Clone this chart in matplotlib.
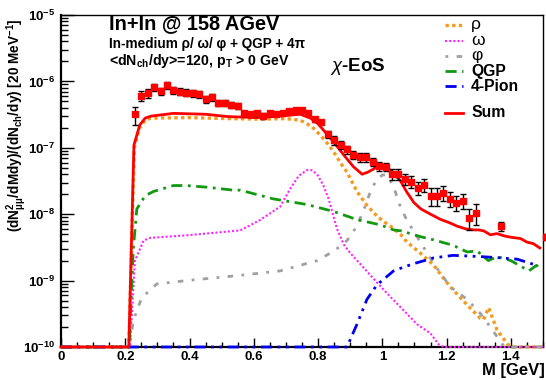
import numpy as np
import matplotlib
matplotlib.use('Agg')
import matplotlib.pyplot as plt
from matplotlib.ticker import FixedLocator, MultipleLocator, NullFormatter

plt.rcParams['font.family'] = ['Liberation Sans', 'DejaVu Sans']
plt.rcParams['mathtext.fontset'] = 'custom'
plt.rcParams['mathtext.rm'] = 'Liberation Sans'
plt.rcParams['mathtext.it'] = 'Liberation Sans:italic'
plt.rcParams['mathtext.bf'] = 'Liberation Sans:bold'

# data points, mass in GeV
m_data = [0.23, 0.25, 0.27, 0.29, 0.31, 0.33, 0.35, 0.37, 0.39, 0.41, 0.43, 0.45,
          0.47, 0.49, 0.51, 0.53, 0.55, 0.57, 0.59, 0.61, 0.63, 0.65, 0.67, 0.69,
          0.71, 0.73, 0.75, 0.77, 0.79, 0.81, 0.83, 0.85, 0.87, 0.89, 0.91, 0.93,
          0.95, 0.97, 0.99, 1.01, 1.03, 1.05, 1.07, 1.09, 1.11, 1.13, 1.15, 1.17,
          1.19, 1.21, 1.23, 1.25, 1.27, 1.29, 1.37, 1.51]
y_data = [3.2e-7, 6.1e-7, 6.6e-7, 8.1e-7, 7.2e-7, 8.7e-7, 7.4e-7, 7.0e-7, 6.8e-7,
          6.7e-7, 6.5e-7, 5.4e-7, 5.8e-7, 4.7e-7, 4.7e-7, 4.4e-7, 4.3e-7, 3.3e-7,
          3.2e-7, 3.3e-7, 3.0e-7, 3.3e-7, 3.2e-7, 3.3e-7, 3.6e-7, 3.7e-7, 3.7e-7,
          3.4e-7, 2.7e-7, 2.45e-7, 1.6e-7, 1.3e-7, 1.1e-7, 9.5e-8, 7.8e-8, 7.2e-8,
          7.2e-8, 6.2e-8, 5.3e-8, 5.2e-8, 4.0e-8, 4.0e-8, 3.4e-8, 3.1e-8, 2.5e-8,
          2.8e-8, 1.9e-8, 1.9e-8, 2.1e-8, 1.7e-8, 1.5e-8, 1.6e-8, 8.8e-9, 1.05e-8,
          6.6e-9, 4.6e-9]
rel_err = [0.30, 0.17, 0.15, 0.12, 0.12, 0.12, 0.12, 0.12, 0.12, 0.12, 0.12, 0.12,
           0.12, 0.1, 0.1, 0.1, 0.1, 0.1, 0.1, 0.1, 0.1, 0.08, 0.06, 0.05,
           0.03, 0.03, 0.03, 0.05, 0.08, 0.08, 0.12, 0.14, 0.14, 0.14, 0.14, 0.14,
           0.14, 0.15, 0.15, 0.15, 0.18, 0.18, 0.2, 0.2, 0.22, 0.22, 0.3, 0.3,
           0.25, 0.25, 0.25, 0.25, 0.35, 0.35, 0.15, 0.1]

m_sum = [0.0, 0.211, 0.227, 0.245, 0.262, 0.28, 0.35, 0.45, 0.52, 0.61, 0.68, 0.745,
         0.776, 0.80, 0.828, 0.85, 0.88, 0.91, 0.937, 0.955, 0.973, 0.99, 1.004, 1.02,
         1.035, 1.056, 1.075, 1.098, 1.12, 1.15, 1.18, 1.21, 1.233, 1.26, 1.285, 1.30,
         1.316, 1.336, 1.357, 1.38, 1.40, 1.43, 1.45, 1.47, 1.49]
y_sum = [1e-10, 1e-10, 1.1e-7, 2.2e-7, 2.8e-7, 3.0e-7, 3.3e-7, 3.2e-7, 2.95e-7, 2.85e-7,
         3.0e-7, 3.2e-7, 2.8e-7, 2.3e-7, 1.6e-7, 1.2e-7, 7.8e-8, 5.2e-8, 4.0e-8, 4.3e-8,
         4.8e-8, 5.6e-8, 5.5e-8, 4.8e-8, 4.1e-8, 3.2e-8, 2.2e-8, 1.5e-8, 1.2e-8, 1.0e-8,
         8.4e-9, 7.4e-9, 6.6e-9, 6.0e-9, 5.8e-9, 5.8e-9, 5.6e-9, 4.9e-9, 5.1e-9, 4.7e-9,
         4.5e-9, 4.3e-9, 3.8e-9, 3.6e-9, 3.1e-9]

m_rho = [0.0, 0.211, 0.228, 0.245, 0.262, 0.28, 0.40, 0.52, 0.62, 0.70, 0.745, 0.78,
         0.807, 0.83, 0.848, 0.869, 0.89, 0.921, 0.95, 0.973, 1.0, 1.025, 1.056, 1.077,
         1.118, 1.16, 1.21, 1.264, 1.305, 1.315, 1.331, 1.357, 1.39, 1.40, 1.5]
y_rho = [1e-10, 1e-10, 1.0e-7, 2.0e-7, 2.6e-7, 2.8e-7, 2.85e-7, 2.75e-7, 2.7e-7, 2.75e-7,
         2.6e-7, 2.1e-7, 1.55e-7, 1.15e-7, 8.8e-8, 6.0e-8, 4.3e-8, 2.2e-8, 1.4e-8, 1.05e-8,
         8e-9, 6.6e-9, 5.0e-9, 3.8e-9, 2.6e-9, 1.7e-9, 8.2e-10, 4.3e-10, 2.7e-10, 2.6e-10,
         3.9e-10, 1.8e-10, 1.1e-10, 1e-10, 1e-10]

m_omega = [0.0, 0.215, 0.23, 0.257, 0.277, 0.39, 0.558, 0.62, 0.682, 0.713, 0.74, 0.765,
           0.78, 0.797, 0.815, 0.833, 0.859, 0.88, 0.9, 0.94, 0.978, 1.015, 1.056, 1.108,
           1.15, 1.175, 1.19, 1.5]
y_omega = [1e-10, 1e-10, 2.0e-9, 4.0e-9, 4.4e-9, 4.8e-9, 5.7e-9, 8.2e-9, 1.3e-8, 2.4e-8,
           3.8e-8, 4.6e-8, 4.6e-8, 4.0e-8, 2.8e-8, 1.7e-8, 6e-9, 3.5e-9, 2.6e-9, 1.6e-9,
           1.0e-9, 6.4e-10, 4.0e-10, 2.2e-10, 1.6e-10, 1.1e-10, 1e-10, 1e-10]

m_phi = [0.0, 0.213, 0.225, 0.251, 0.298, 0.39, 0.558, 0.682, 0.797, 0.85, 0.89, 0.92,
         0.942, 0.96, 0.98, 1.0, 1.015, 1.035, 1.056, 1.077, 1.108, 1.16, 1.21, 1.264,
         1.305, 1.336, 1.368, 1.38, 1.5]
y_phi = [1e-10, 1e-10, 2.5e-10, 5.5e-10, 8.9e-10, 1.0e-9, 1.2e-9, 1.4e-9, 2.0e-9, 2.8e-9,
         4.0e-9, 6.5e-9, 1.15e-8, 2.0e-8, 3.2e-8, 3.9e-8, 3.9e-8, 2.6e-8, 1.3e-8, 8e-9,
         4.6e-9, 1.8e-9, 8.2e-10, 5.2e-10, 3.2e-10, 2.0e-10, 1.2e-10, 1e-10, 1e-10]

m_qgp = [0.0, 0.212, 0.225, 0.236, 0.262, 0.288, 0.35, 0.39, 0.454, 0.537, 0.558, 0.661,
         0.765, 0.848, 0.921, 0.994, 1.035, 1.06, 1.087, 1.118, 1.16, 1.22, 1.264, 1.295,
         1.33, 1.357, 1.40, 1.456, 1.48, 1.495]
y_qgp = [1e-10, 1e-10, 3e-9, 1.2e-8, 1.9e-8, 2.2e-8, 2.7e-8, 2.7e-8, 2.55e-8, 2.3e-8,
         2.3e-8, 1.7e-8, 1.4e-8, 1.1e-8, 8.3e-9, 6.9e-9, 5.8e-9, 5.6e-9, 5.1e-9, 4.6e-9,
         4.1e-9, 3.4e-9, 2.7e-9, 2.8e-9, 2.0e-9, 2.3e-9, 2.0e-9, 1.4e-9, 1.7e-9, 1.4e-9]

m_4pi = [0.0, 0.89, 0.921, 0.952, 0.983, 1.035, 1.067, 1.098, 1.16, 1.22, 1.305, 1.368,
         1.42, 1.48]
y_4pi = [1e-10, 1e-10, 2.2e-10, 5.2e-10, 8.6e-10, 1.4e-9, 1.6e-9, 1.8e-9, 2.2e-9, 2.4e-9,
         2.3e-9, 2.2e-9, 2.1e-9, 1.7e-9]

c_rho = '#f59a1e'
c_omega = '#ff22ff'
c_phi = '#a0a0a0'
c_qgp = '#119911'
c_4pi = '#0000ee'
c_sum = '#ff0000'

ls_rho = (0, (1.0, 1.0))
ls_omega = (0, (1.0, 1.0))
ls_phi = (0, (1.0, 3.0, 2.0, 3.0))
ls_qgp = (0, (4.0, 2.0, 1.0, 2.0))
ls_4pi = (0, (4.0, 2.0, 1.0, 2.0, 1.0, 2.0))

fig = plt.figure(figsize=(5.46, 3.8), dpi=100)
ax = fig.add_axes([61 / 546, 1 - 347 / 380, 482 / 546, 332 / 380])

# curves sitting on the bottom (zero) are drawn along the axis like in ROOT
kw = dict(clip_on=False, zorder=3)
ax.plot(m_rho, y_rho, color=c_rho, lw=2.4, ls=ls_rho, **kw)
ax.plot(m_omega, y_omega, color=c_omega, lw=1.5, ls=ls_omega, **kw)
ax.plot(m_phi, y_phi, color=c_phi, lw=2.0, ls=ls_phi, **kw)
ax.plot(m_qgp, y_qgp, color=c_qgp, lw=2.0, ls=ls_qgp, **kw)
ax.plot(m_4pi, y_4pi, color=c_4pi, lw=2.0, ls=ls_4pi, **kw)
ax.plot(m_sum, y_sum, color=c_sum, lw=2.0, **kw)

yd = np.array(y_data)
ax.errorbar(m_data, yd, yerr=yd * np.array(rel_err), fmt='s', color='black',
            mfc='#ff0000', mec='#ff0000', ms=4.5, elinewidth=1.0, capsize=2.5,
            capthick=1.0, zorder=5, clip_on=False)

ax.set_yscale('log')
ax.set_xlim(0, 1.5)
ax.set_ylim(1e-10, 1e-5)

ax.xaxis.set_major_locator(FixedLocator([0, 0.2, 0.4, 0.6, 0.8, 1.0, 1.2, 1.4]))
ax.set_xticklabels(['0', '0.2', '0.4', '0.6', '0.8', '1', '1.2', '1.4'],
                   fontweight='bold', fontsize=9.5)
ax.xaxis.set_minor_locator(MultipleLocator(0.05))

dec = [-10, -9, -8, -7, -6, -5]
ax.yaxis.set_major_locator(FixedLocator([10.0 ** d for d in dec]))
ax.set_yticklabels([r'$\mathbf{10^{%d}}$' % d for d in dec], fontsize=9.5)
minors = [k * 10.0 ** d for d in dec[:-1] for k in range(2, 10)]
ax.yaxis.set_minor_locator(FixedLocator(minors))
ax.yaxis.set_minor_formatter(NullFormatter())

ax.tick_params(axis='y', which='major', direction='in', length=9.5, width=1.0, pad=4)
ax.tick_params(axis='y', which='minor', direction='in', length=5, width=1.0)
ax.tick_params(axis='x', which='major', direction='in', length=6.5, width=1.0, pad=3)
ax.tick_params(axis='x', which='minor', direction='in', length=3.5, width=1.0)
for s in ax.spines.values():
    s.set_linewidth(1.0)
ax.spines['left'].set_linewidth(1.6)
ax.spines['bottom'].set_linewidth(1.6)

# header text
ax.text(0.0996, 0.973, 'In+In @ 158 AGeV', transform=ax.transAxes, fontsize=14.4,
        fontweight='bold', va='center')
ax.text(0.0996, 0.913, 'In-medium ρ/ ω/ φ + QGP + 4π', transform=ax.transAxes,
        fontsize=9.8, fontweight='bold', va='center')
ax.text(0.0996, 0.862, r'<dN$_{\mathbf{ch}}$/dy>=120, p$_{\mathbf{T}}$ > 0 GeV',
        transform=ax.transAxes, fontsize=10.2, fontweight='bold', va='center')
ax.text(0.558, 0.846, r'$\chi$-EoS', transform=ax.transAxes, fontsize=13.5,
        fontweight='bold', va='center')

# legend drawn by hand
leg = [('ρ', c_rho, ls_rho, 2.4, 0.970, 'normal'),
       ('ω', c_omega, ls_omega, 1.5, 0.922, 'normal'),
       ('φ', c_phi, ls_phi, 2.0, 0.877, 'normal'),
       ('QGP', c_qgp, ls_qgp, 2.0, 0.831, 'bold'),
       ('4-Pion', c_4pi, ls_4pi, 2.0, 0.786, 'bold'),
       ('Sum', c_sum, '-', 2.0, 0.705, 'bold')]
for name, col, ls, lw, yy, fw in leg:
    ax.plot([0.797, 0.834], [yy, yy], transform=ax.transAxes, color=col, ls=ls, lw=lw)
    ax.text(0.851, yy, name, transform=ax.transAxes, fontsize=11.3 if fw == 'bold' else 12.5,
            fontweight=fw, va='center')

fig.text(17 / 546, 1 - 125 / 380,
         r'(dN$^{\mathbf{2}}_{\mathbf{\mu\mu}}$/dMdy)/(dN$_{\mathbf{ch}}$/dy) [20 MeV$^{\mathbf{-1}}$]',
         rotation=90, ha='center', va='center', fontsize=9.8, fontweight='bold')
fig.text(0.997, 1 - 370 / 380, 'M [GeV]', ha='right', va='center', fontsize=12,
         fontweight='bold')

fig.savefig('out.png', dpi=100)
